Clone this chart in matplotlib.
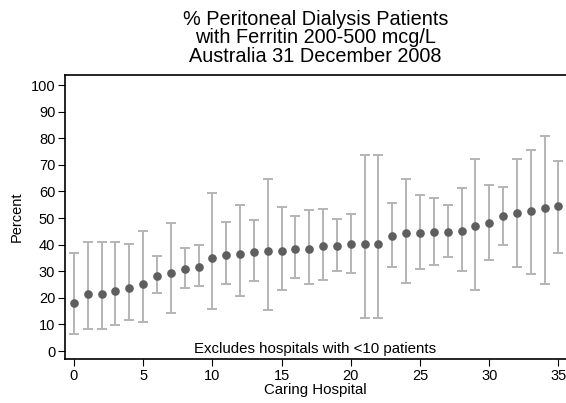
import numpy as np
import matplotlib.pyplot as plt

plt.rcParams['font.family'] = ['Liberation Sans', 'DejaVu Sans']

# hospital rank, percent of patients in range and 95% interval
hospital = np.arange(36)
percent = [17.9, 21.5, 21.5, 22.7, 23.7, 25.2, 28.3, 29.2, 30.7, 31.6,
           35.1, 36.3, 36.6, 37.1, 37.7, 37.7, 38.5, 38.5, 39.5, 39.5,
           40.1, 40.1, 40.1, 43.2, 44.5, 44.5, 44.7, 44.8, 45.2, 47.1,
           48.2, 50.8, 52.1, 52.6, 53.9, 54.4]
lower = [6.3, 8.4, 8.4, 9.7, 11.7, 10.9, 21.7, 14.4, 23.6, 24.3,
         15.7, 25.3, 20.7, 26.2, 15.4, 22.8, 27.4, 25.4, 26.6, 30.0,
         29.4, 12.4, 12.4, 31.6, 25.7, 30.9, 32.4, 35.2, 30.1, 23.1,
         34.1, 39.8, 31.5, 29.1, 25.3, 36.8]
upper = [37.0, 41.0, 41.0, 41.0, 40.3, 45.0, 35.8, 48.0, 38.7, 39.7,
         59.4, 48.4, 55.0, 49.1, 64.8, 54.3, 50.6, 53.1, 53.5, 49.7,
         51.6, 73.8, 73.8, 55.5, 64.8, 58.8, 57.6, 54.9, 61.4, 72.3,
         62.5, 61.7, 72.3, 75.6, 80.9, 71.4]

percent = np.array(percent)
err = [percent - np.array(lower), np.array(upper) - percent]

fig = plt.figure(figsize=(5.66, 4.03), dpi=100)
ax = fig.add_axes([0.1148, 0.1084, 0.8852, 0.7055])

ax.errorbar(hospital, percent, yerr=err, fmt='none', ecolor='#b4b4b4',
            elinewidth=1.4, capsize=3.5, capthick=1.4, zorder=2)
ax.plot(hospital, percent, 'o', color='#5e5e5e', markersize=5.2, zorder=3)

ax.set_xlim(-0.65, 35.55)
ax.set_ylim(-3.1, 103.8)
ax.set_xticks(range(0, 36, 5))
ax.set_yticks(range(0, 101, 10))
ax.tick_params(direction='out', length=5, width=0.8, labelsize=10.5, pad=2)
ax.spines['right'].set_visible(False)
for s in ['left', 'bottom', 'top']:
    ax.spines[s].set_linewidth(1.2)

ax.set_ylabel('Percent', fontsize=10.5, labelpad=5)
ax.set_xlabel('Caring Hospital', fontsize=10.8, labelpad=0)
ax.text(0.5, 0.012, 'Excludes hospitals with <10 patients', transform=ax.transAxes,
        ha='center', va='bottom', fontsize=10.8)

fig.text(0.557, 0.975, '% Peritoneal Dialysis Patients\nwith Ferritin 200-500 mcg/L\nAustralia 31 December 2008',
         ha='center', va='top', fontsize=14.3, linespacing=0.95)

fig.savefig('out.png', dpi=100)
